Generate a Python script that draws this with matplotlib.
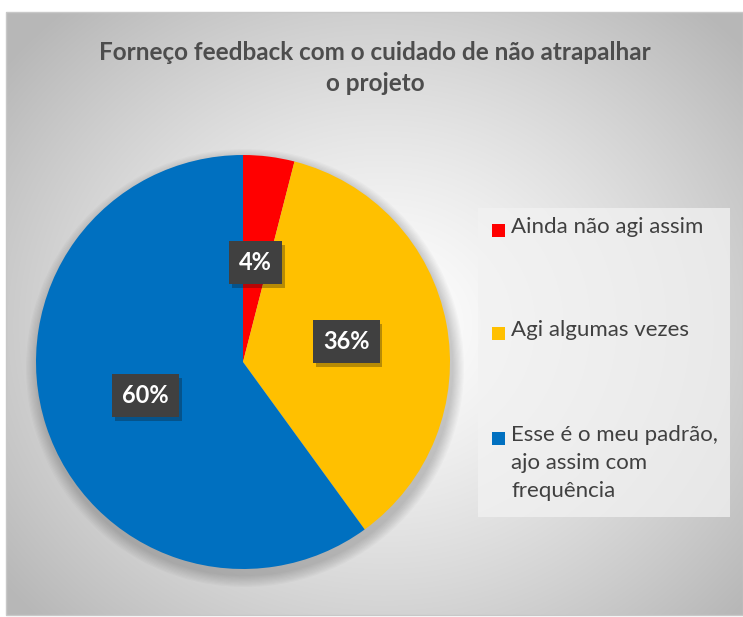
import numpy as np
import matplotlib
matplotlib.use("Agg")
import matplotlib.pyplot as plt
import matplotlib.patheffects as pe
from matplotlib.patches import Rectangle, Circle

# data
labels = ["Ainda não agi assim", "Agi algumas vezes",
          "Esse é o meu padrão,\najo assim com\nfrequência"]
values = [4, 36, 60]
colors = ["#ff0000", "#ffc000", "#0070c0"]
title = "Forneço feedback com o cuidado de não atrapalhar\no projeto"

W, H = 743, 617
plt.rcParams["font.family"] = ["Lato", "DejaVu Sans"]
fig = plt.figure(figsize=(W / 100, H / 100), dpi=100)
fig.patch.set_facecolor("white")

# radial gradient background panel
bg = fig.add_axes([0, 0, 1, 1])
bg.set_xlim(0, W); bg.set_ylim(H, 0); bg.axis("off")
yy, xx = np.mgrid[0:H, 0:W]
d = np.sqrt(((xx - 380) / 470.0) ** 2 + ((yy - 320) / 420.0) ** 2)
g = np.clip(1.0 - 0.27 * d ** 1.3, 0.72, 1.0)
img = np.dstack([g, g, g])
bg.imshow(img, extent=(6, W, 615, 12), zorder=0)
bg.add_patch(Rectangle((6, 12), W - 6, 603, fill=False, ec="#c8c8c8", lw=1, zorder=1))

# pie shadow (soft)
cx, cy, r = 243, 362, 207
for k in range(10):
    bg.add_patch(Circle((cx + 2, cy + 6), r + 12 - k * 1.2, color="#000000",
                        alpha=0.018, lw=0, zorder=2))

bg.text(375, 68, title, ha="center", va="center", fontsize=17.5,
        fontweight="bold", color="#4d4d4d", linespacing=1.4, zorder=5)

# pie
ax = fig.add_axes([(cx - r) / W, 1 - (cy + r) / H, 2 * r / W, 2 * r / H])
wedges, _ = ax.pie(values, colors=colors, startangle=90, counterclock=False,
                   wedgeprops=dict(linewidth=0))
ax.set_xlim(-1, 1); ax.set_ylim(-1, 1)
ax.set_aspect("auto")

label_pos = [(0.06, 0.48), (0.50, 0.10), (-0.47, -0.16)]
for v, (lx, ly) in zip(values, label_pos):
    t = ax.text(lx, ly, f"{v}%", ha="center", va="center", fontsize=17,
                fontweight="bold", color="white",
                bbox=dict(boxstyle="square,pad=0.42", fc="#404040", ec="none"))
    t.get_bbox_patch().set_path_effects(
        [pe.SimplePatchShadow(offset=(2, -3), alpha=0.3), pe.Normal()])

# legend
bg.add_patch(Rectangle((478, 208), 252, 309, fc="#f2f2f2", ec="none", alpha=0.75, zorder=3))
leg_y = [230, 333, 438]
for lab, c, y in zip(labels, colors, leg_y):
    bg.add_patch(Rectangle((492, y - 6), 13, 13, fc=c, ec="none", zorder=4))
    bg.text(511, y - 13, lab, ha="left", va="top", fontsize=16, color="#404040",
            linespacing=1.5, zorder=5)

fig.savefig("out.png", dpi=100)
